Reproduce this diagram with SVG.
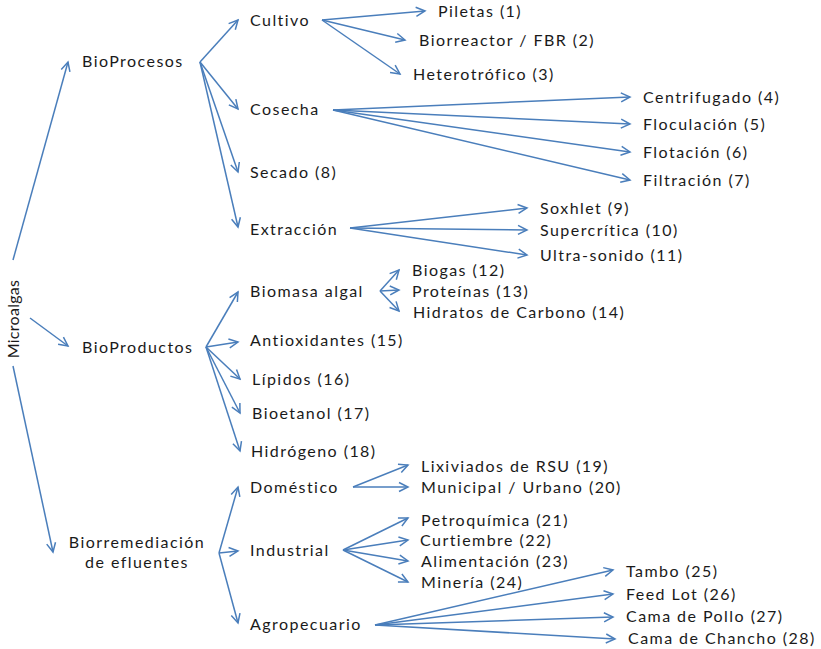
<svg xmlns="http://www.w3.org/2000/svg" width="821" height="649" viewBox="0 0 821 649">
<defs>
<marker id="ah" viewBox="-10 -6 12 12" markerWidth="12" markerHeight="12" refX="0" refY="0" orient="auto" markerUnits="userSpaceOnUse">
<path d="M-9,-4.5 L0,0 L-9,4.5" fill="none" stroke="#4a7ebb" stroke-width="1.5"/>
</marker>
<style>
.t{font-family:Lato,"Open Sans","Liberation Sans",sans-serif;font-size:16px;letter-spacing:1.45px;fill:#1a1a1a}
.v{letter-spacing:0.3px}
.c line{stroke:#4a7ebb;stroke-width:1.5;marker-end:url(#ah)}
</style>
</defs>
<rect width="821" height="649" fill="#fff"/>
<g class="c" id="connectors">
<line x1="13" y1="260" x2="68" y2="62"/>
<line x1="30" y1="318" x2="68" y2="346"/>
<line x1="13" y1="366" x2="53" y2="552"/>
<line x1="200" y1="62" x2="238" y2="20"/>
<line x1="200" y1="62" x2="238" y2="109"/>
<line x1="200" y1="62" x2="238" y2="172"/>
<line x1="200" y1="62" x2="238" y2="227"/>
<line x1="322" y1="20" x2="425" y2="11"/>
<line x1="322" y1="20" x2="405" y2="40"/>
<line x1="322" y1="20" x2="400" y2="74"/>
<line x1="333" y1="110" x2="630" y2="97"/>
<line x1="333" y1="110" x2="630" y2="124"/>
<line x1="333" y1="110" x2="630" y2="152"/>
<line x1="333" y1="110" x2="630" y2="180"/>
<line x1="350" y1="228" x2="527" y2="208"/>
<line x1="350" y1="228" x2="527" y2="230"/>
<line x1="350" y1="228" x2="527" y2="255"/>
<line x1="206" y1="347" x2="238" y2="292"/>
<line x1="206" y1="347" x2="238" y2="342"/>
<line x1="206" y1="347" x2="240" y2="379"/>
<line x1="206" y1="347" x2="240" y2="413"/>
<line x1="206" y1="347" x2="240" y2="451"/>
<line x1="380" y1="291" x2="399" y2="270"/>
<line x1="380" y1="291" x2="399" y2="290"/>
<line x1="380" y1="291" x2="399" y2="311"/>
<line x1="219" y1="553" x2="238" y2="487"/>
<line x1="219" y1="553" x2="238" y2="551"/>
<line x1="219" y1="553" x2="238" y2="623"/>
<line x1="353" y1="487" x2="408" y2="465"/>
<line x1="353" y1="487" x2="408" y2="487"/>
<line x1="343" y1="550" x2="408" y2="518"/>
<line x1="343" y1="550" x2="408" y2="540"/>
<line x1="343" y1="550" x2="408" y2="561"/>
<line x1="343" y1="550" x2="408" y2="582"/>
<line x1="375" y1="625" x2="613" y2="570"/>
<line x1="375" y1="625" x2="613" y2="594"/>
<line x1="375" y1="625" x2="613" y2="617"/>
<line x1="375" y1="625" x2="615" y2="639"/>
</g>
<g id="microalgas"><text class="t v" transform="translate(19,319) rotate(-90)" text-anchor="middle">Microalgas</text></g>
<g id="bioprocesos"><text class="t" x="82" y="67">BioProcesos</text></g>
<g id="bioproductos"><text class="t" x="82" y="353">BioProductos</text></g>
<g id="biorremediacion"><text class="t" x="137" y="548" text-anchor="middle">Biorremediación</text><text class="t" x="137" y="568" text-anchor="middle">de efluentes</text></g>
<g id="cultivo"><text class="t" x="250" y="26">Cultivo</text></g>
<g id="cosecha"><text class="t" x="250" y="115">Cosecha</text></g>
<g id="secado"><text class="t" x="250" y="178">Secado (8)</text></g>
<g id="extraccion"><text class="t" x="250" y="235">Extracción</text></g>
<g id="piletas"><text class="t" x="438" y="17">Piletas (1)</text></g>
<g id="biorreactor"><text class="t" x="419" y="46">Biorreactor / FBR (2)</text></g>
<g id="heterotrofico"><text class="t" x="413" y="80">Heterotrófico (3)</text></g>
<g id="centrifugado"><text class="t" x="643" y="103">Centrifugado (4)</text></g>
<g id="floculacion"><text class="t" x="643" y="130">Floculación (5)</text></g>
<g id="flotacion"><text class="t" x="643" y="158">Flotación (6)</text></g>
<g id="filtracion"><text class="t" x="643" y="186">Filtración (7)</text></g>
<g id="soxhlet"><text class="t" x="540" y="214">Soxhlet (9)</text></g>
<g id="supercritica"><text class="t" x="540" y="236">Supercrítica (10)</text></g>
<g id="ultrasonido"><text class="t" x="540" y="261">Ultra-sonido (11)</text></g>
<g id="biomasa"><text class="t" x="250" y="297">Biomasa algal</text></g>
<g id="biogas"><text class="t" x="412" y="276">Biogas (12)</text></g>
<g id="proteinas"><text class="t" x="412" y="297">Proteínas (13)</text></g>
<g id="hidratos"><text class="t" x="413" y="318">Hidratos de Carbono (14)</text></g>
<g id="antioxidantes"><text class="t" x="250" y="346">Antioxidantes (15)</text></g>
<g id="lipidos"><text class="t" x="252" y="385">Lípidos (16)</text></g>
<g id="bioetanol"><text class="t" x="252" y="419">Bioetanol (17)</text></g>
<g id="hidrogeno"><text class="t" x="251" y="457">Hidrógeno (18)</text></g>
<g id="domestico"><text class="t" x="250" y="493">Doméstico</text></g>
<g id="industrial"><text class="t" x="250" y="556">Industrial</text></g>
<g id="agropecuario"><text class="t" x="250" y="630">Agropecuario</text></g>
<g id="lixiviados"><text class="t" x="421" y="472">Lixiviados de RSU (19)</text></g>
<g id="municipal"><text class="t" x="421" y="493">Municipal / Urbano (20)</text></g>
<g id="petroquimica"><text class="t" x="421" y="526">Petroquímica (21)</text></g>
<g id="curtiembre"><text class="t" x="420" y="546">Curtiembre (22)</text></g>
<g id="alimentacion"><text class="t" x="421" y="567">Alimentación (23)</text></g>
<g id="mineria"><text class="t" x="421" y="588">Minería (24)</text></g>
<g id="tambo"><text class="t" x="626" y="577">Tambo (25)</text></g>
<g id="feedlot"><text class="t" x="626" y="600">Feed Lot (26)</text></g>
<g id="pollo"><text class="t" x="626" y="622">Cama de Pollo (27)</text></g>
<g id="chancho"><text class="t" x="628" y="644">Cama de Chancho (28)</text></g>
</svg>
